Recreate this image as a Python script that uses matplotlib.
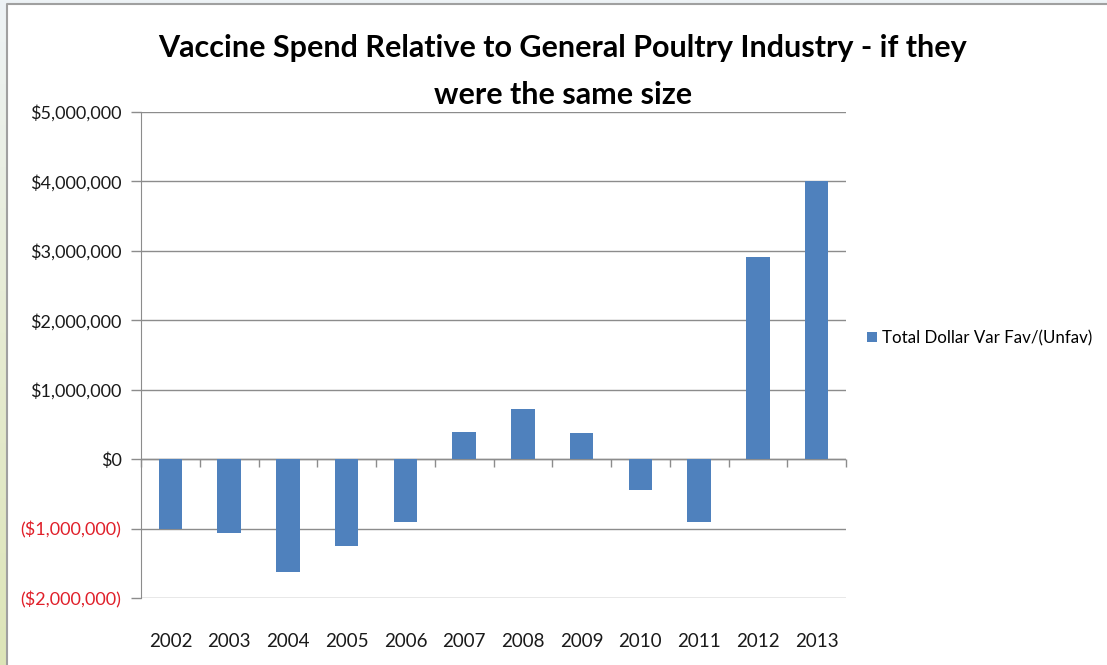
import numpy as np
import matplotlib.pyplot as plt
from matplotlib.colors import LinearSegmentedColormap
from matplotlib.ticker import FuncFormatter

years = ['2002', '2003', '2004', '2005', '2006', '2007', '2008', '2009',
         '2010', '2011', '2012', '2013']
var_fav = [-1000000, -1060000, -1620000, -1250000, -900000, 390000, 720000,
           370000, -450000, -900000, 2910000, 4000000]
series_name = 'Total Dollar Var Fav/(Unfav)'
title_lines = ['Vaccine Spend Relative to General Poultry Industry - if they',
               'were the same size']

plt.rcParams['font.family'] = ['Lato', 'DejaVu Sans']
bar_color = '#4F81BD'
grid_color = '#8C8C8C'
W, H = 1107, 665

fig = plt.figure(figsize=(W / 100, H / 100), dpi=100)
fig.patch.set_facecolor('#F3F6F8')

# slide background strip on the left, then the white chart frame
bg = fig.add_axes([0, 0, 1, 1], zorder=-10)
grad = np.linspace(0, 1, 256).reshape(-1, 1)
cmap = LinearSegmentedColormap.from_list('bg', ['#EEF3F6', '#E6EBD2', '#DDE5B8'])
bg.imshow(grad, aspect='auto', cmap=cmap, extent=[0, 1, 0, 1], origin='upper')
bg.set_xlim(0, 1)
bg.set_ylim(0, 1)
bg.axis('off')
fx, fy = 7 / W, 1 - 4 / H
bg.fill_between([fx, 1], 0, fy, color='white', zorder=2)
bg.plot([fx, fx, 1], [0, fy, fy], color='#A0A0A0', linewidth=1.5, zorder=3)

ax = fig.add_axes([141 / W, 1 - 598 / H, (846 - 141) / W, (598 - 112) / H])
ax.set_facecolor('white')

x = np.arange(len(years))
ax.bar(x, var_fav, width=0.4, color=bar_color, label=series_name, zorder=3)

ax.set_xlim(-0.5, len(years) - 0.5)
ax.set_ylim(-2000000, 5000000)
ax.set_yticks(np.arange(-2000000, 5000001, 1000000))


def money(v, pos):
    if v < 0:
        return '(${:,.0f})'.format(-v)
    return '${:,.0f}'.format(v)


ax.yaxis.set_major_formatter(FuncFormatter(money))
ax.grid(axis='y', color=grid_color, linewidth=1, zorder=0)
ax.tick_params(axis='y', length=7, width=1, color=grid_color, labelsize=13,
               labelcolor='#1A1A1A', pad=7)
for lbl, v in zip(ax.get_yticklabels(), ax.get_yticks()):
    if v < 0:
        lbl.set_color('#E0202A')

ax.set_xticks(x)
ax.set_xticklabels(years, fontsize=13.5, color='#1A1A1A')
ax.tick_params(axis='x', length=0, pad=25)

for side in ['top', 'right', 'bottom']:
    ax.spines[side].set_visible(False)
ax.spines['left'].set_color(grid_color)
ax.axhline(0, color=grid_color, linewidth=1, zorder=2)

# category ticks on the zero line
zero_ax = ax.secondary_xaxis(2 / 7)
zero_ax.set_xticks(np.arange(len(years) + 1) - 0.5)
zero_ax.set_xticklabels([])
zero_ax.tick_params(length=6, width=1, color=grid_color, direction='out')
zero_ax.spines['bottom'].set_visible(False)

fig.text(563 / W, 1 - 48 / H, title_lines[0], ha='center', va='center',
         fontsize=22, fontweight='bold')
fig.text(563 / W, 1 - 95 / H, title_lines[1], ha='center', va='center',
         fontsize=22, fontweight='bold')

fig.legend(loc='center left', bbox_to_anchor=(857 / W, 1 - 338 / H),
           frameon=False, fontsize=12.2, handlelength=0.6, handleheight=0.6,
           handletextpad=0.25, borderaxespad=0.2)

fig.savefig('out.png', dpi=100)
